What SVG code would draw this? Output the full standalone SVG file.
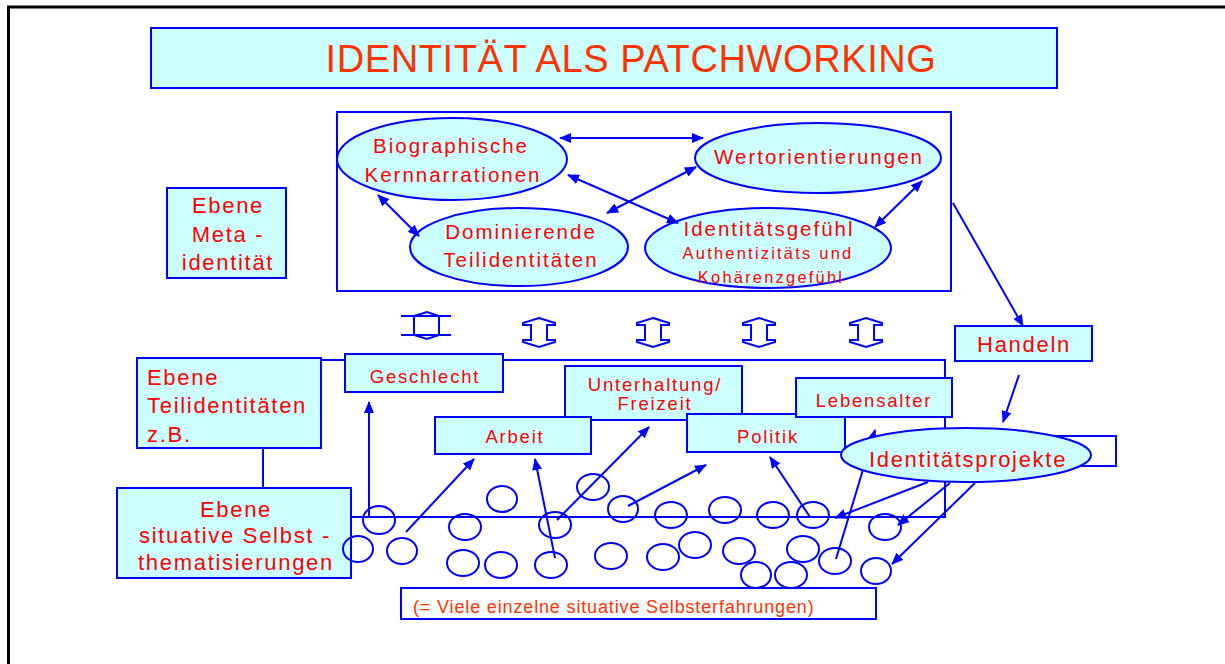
<svg xmlns="http://www.w3.org/2000/svg" width="1225" height="664" viewBox="0 0 1225 664">
<defs>
<style>
.box{fill:#CCFFFF;stroke:#0000FF;stroke-width:2}
.frame{fill:none;stroke:#0000FF;stroke-width:2}
.circ{fill:none;stroke:#0000FF;stroke-width:2}
.ln{fill:none;stroke:#0000FF;stroke-width:2}
.ar{marker-end:url(#ah)}
.dar{marker-start:url(#ah);marker-end:url(#ah)}
.hollow{fill:#FFFFFF;stroke:#0000FF;stroke-width:2;stroke-linejoin:miter}
text{font-family:"Liberation Sans",Arial,sans-serif;fill:#FF0000}
.t20{font-size:20.5px;letter-spacing:2px;text-anchor:middle}
.t16{font-size:16.5px;letter-spacing:2.2px;text-anchor:middle}
.t18{font-size:18.5px;letter-spacing:1.8px;text-anchor:middle}
.t22{font-size:22px;letter-spacing:1.7px}
.mid{text-anchor:middle}
.org{fill:#FF3300}
</style>
<marker id="ah" markerUnits="userSpaceOnUse" markerWidth="12" markerHeight="10" refX="11" refY="5" orient="auto-start-reverse">
<path d="M0,0 L12,5 L0,10 Z" fill="#0000FF"/>
</marker>
</defs>
<rect width="1225" height="664" fill="#FFFFFF"/>
<path d="M7,7 H1225 M8.5,7 V664" stroke="#000000" stroke-width="3" fill="none"/>

<g id="title">
<rect class="box" x="151" y="28" width="906" height="60"/>
<text class="org mid" x="631" y="72" font-size="38" letter-spacing="0.6">IDENTITÄT ALS PATCHWORKING</text>
</g>

<g id="meta-frame"><rect class="frame" x="337" y="112" width="614" height="179"/></g>

<g id="biographische">
<ellipse class="box" cx="452" cy="159" rx="115" ry="41"/>
<text class="t20" x="451" y="153">Biographische</text>
<text class="t20" x="453" y="182">Kernnarrationen</text>
</g>
<g id="wertorientierungen">
<ellipse class="box" cx="818" cy="158" rx="123" ry="35"/>
<text class="t20" x="819" y="164">Wertorientierungen</text>
</g>
<g id="dominierende">
<ellipse class="box" cx="519" cy="247" rx="109" ry="39"/>
<text class="t20" x="521" y="239">Dominierende</text>
<text class="t20" x="521" y="267">Teilidentitäten</text>
</g>
<g id="identitaetsgefuehl">
<ellipse class="box" cx="768" cy="248" rx="123" ry="40"/>
<text class="t20" x="769" y="236">Identitätsgefühl</text>
<text class="t16" x="768" y="259">Authentizitäts und</text>
<text class="t16" x="771" y="283">Kohärenzgefühl</text>
</g>

<g id="ebene-meta">
<rect class="box" x="167" y="188" width="119" height="90"/>
<text class="t22 mid" x="228" y="213" letter-spacing="2.4">Ebene</text>
<text class="t22 mid" x="228" y="242" letter-spacing="2.4">Meta -</text>
<text class="t22 mid" x="228" y="270" letter-spacing="2.4">identität</text>
</g>

<g id="updown-arrows">
<path class="hollow" d="M414,316 L427,312 L439,316 V335 L427,339 L414,335 Z"/>
<path class="ln" d="M401,316 H451 M401,335 H451"/>
<path class="hollow" d="M539,318 L555,323 V325 H547 V340 H555 V342 L539,347 L523,342 V340 H531 V325 H523 V323 Z"/>
<path class="hollow" d="M653,318 L669,323 V325 H661 V340 H669 V342 L653,347 L637,342 V340 H645 V325 H637 V323 Z"/>
<path class="hollow" d="M759,318 L775,323 V325 H767 V340 H775 V342 L759,347 L743,342 V340 H751 V325 H743 V323 Z"/>
<path class="hollow" d="M866,318 L882,323 V325 H874 V340 H882 V342 L866,347 L850,342 V340 H858 V325 H850 V323 Z"/>
</g>

<g id="teil-frame"><rect class="frame" x="263" y="360" width="682" height="157"/></g>

<g id="ebene-teil">
<rect class="box" x="137" y="358" width="184" height="90"/>
<text class="t22" x="147" y="385">Ebene</text>
<text class="t22" x="147" y="413">Teilidentitäten</text>
<text class="t22" x="147" y="442">z.B.</text>
</g>
<g id="geschlecht">
<rect class="box" x="345" y="354" width="158" height="38"/>
<text class="t18" x="425" y="383" letter-spacing="1.3">Geschlecht</text>
</g>
<g id="unterhaltung">
<rect class="box" x="565" y="366" width="177" height="54"/>
<text class="t18" x="655" y="391">Unterhaltung/</text>
<text class="t18" x="655" y="410">Freizeit</text>
</g>
<g id="arbeit">
<rect class="box" x="435" y="417" width="156" height="37"/>
<text class="t18" x="515" y="443" letter-spacing="2.4">Arbeit</text>
</g>
<g id="politik">
<rect class="box" x="687" y="414" width="158" height="38"/>
<text class="t18" x="768" y="443" letter-spacing="2.2">Politik</text>
</g>
<g id="lebensalter">
<rect class="box" x="796" y="378" width="156" height="39"/>
<text class="t18" x="874" y="407">Lebensalter</text>
</g>
<g id="handeln">
<rect class="box" x="955" y="326" width="137" height="35"/>
<text class="t22 mid" x="1024" y="352">Handeln</text>
</g>

<g id="ebene-situativ">
<rect class="box" x="117" y="488" width="234" height="90"/>
<text class="t22 mid" x="236" y="517">Ebene</text>
<text class="t22 mid" x="235" y="543">situative Selbst -</text>
<text class="t22 mid" x="236" y="570">thematisierungen</text>
</g>

<g id="selbsterfahrungen">
<ellipse class="circ" cx="358" cy="549" rx="15" ry="13"/>
<ellipse class="circ" cx="379" cy="520" rx="16" ry="14"/>
<ellipse class="circ" cx="402" cy="551" rx="15" ry="13"/>
<ellipse class="circ" cx="465" cy="527" rx="16" ry="13"/>
<ellipse class="circ" cx="502" cy="499" rx="15" ry="13"/>
<ellipse class="circ" cx="463" cy="563" rx="16" ry="13"/>
<ellipse class="circ" cx="501" cy="565" rx="16" ry="13"/>
<ellipse class="circ" cx="555" cy="525" rx="16" ry="13"/>
<ellipse class="circ" cx="551" cy="565" rx="16" ry="13"/>
<ellipse class="circ" cx="593" cy="487" rx="16" ry="13"/>
<ellipse class="circ" cx="623" cy="509" rx="15" ry="13"/>
<ellipse class="circ" cx="611" cy="556" rx="16" ry="13"/>
<ellipse class="circ" cx="671" cy="515" rx="16" ry="13"/>
<ellipse class="circ" cx="663" cy="557" rx="16" ry="13"/>
<ellipse class="circ" cx="695" cy="545" rx="16" ry="13"/>
<ellipse class="circ" cx="725" cy="510" rx="16" ry="13"/>
<ellipse class="circ" cx="739" cy="551" rx="16" ry="13"/>
<ellipse class="circ" cx="756" cy="575" rx="15" ry="13"/>
<ellipse class="circ" cx="773" cy="515" rx="16" ry="13"/>
<ellipse class="circ" cx="791" cy="575" rx="16" ry="13"/>
<ellipse class="circ" cx="813" cy="515" rx="16" ry="13"/>
<ellipse class="circ" cx="803" cy="549" rx="16" ry="13"/>
<ellipse class="circ" cx="835" cy="561" rx="16" ry="13"/>
<ellipse class="circ" cx="885" cy="527" rx="16" ry="13"/>
<ellipse class="circ" cx="876" cy="571" rx="15" ry="13"/>
</g>

<g id="selbsterfahrungen-label">
<rect class="frame" x="401" y="588" width="475" height="31"/>
<text class="org" x="413" y="613" font-size="18" letter-spacing="0.85">(= Viele einzelne situative Selbsterfahrungen)</text>
</g>

<g id="connectors">
<line class="ln dar" x1="560" y1="138" x2="703" y2="138"/>
<line class="ln dar" x1="568" y1="175" x2="678" y2="223"/>
<line class="ln dar" x1="696" y1="167" x2="607" y2="213"/>
<line class="ln dar" x1="378" y1="195" x2="419" y2="236"/>
<line class="ln dar" x1="922" y1="181" x2="875" y2="227"/>
<line class="ln ar" x1="953" y1="203" x2="1023" y2="326"/>
<line class="ln ar" x1="1019" y1="375" x2="1003" y2="422"/>
<line class="ln ar" x1="369" y1="517" x2="369" y2="402"/>
<line class="ln ar" x1="406" y1="532" x2="474" y2="459"/>
<line class="ln ar" x1="555" y1="558" x2="535" y2="459"/>
<line class="ln ar" x1="557" y1="520" x2="649" y2="427"/>
<line class="ln ar" x1="628" y1="506" x2="706" y2="465"/>
<line class="ln ar" x1="810" y1="517" x2="770" y2="457"/>
<line class="ln ar" x1="836" y1="559" x2="875" y2="430"/>
<line class="ln ar" x1="928" y1="482" x2="835" y2="518"/>
<line class="ln ar" x1="950" y1="483" x2="898" y2="525"/>
<line class="ln ar" x1="975" y1="483" x2="892" y2="564"/>
</g>

<g id="identitaetsprojekte">
<rect class="frame" x="1000" y="436" width="116" height="30"/>
<ellipse class="box" cx="966" cy="455" rx="125" ry="27"/>
<text class="t22 mid" x="968" y="467">Identitätsprojekte</text>
</g>
</svg>
